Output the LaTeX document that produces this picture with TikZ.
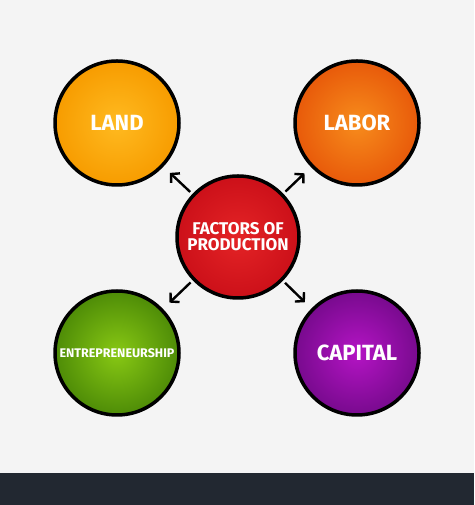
\documentclass[tikz,border=0pt]{standalone}
\usepackage{fontspec}
\setmainfont{Fira Sans}
\usetikzlibrary{positioning,arrows.meta}

\definecolor{paper}{HTML}{F4F4F4}
\definecolor{footbar}{HTML}{222831}
\definecolor{landin}{HTML}{FFBA20}
\definecolor{landout}{HTML}{F79C00}
\definecolor{laborin}{HTML}{F78C1C}
\definecolor{laborout}{HTML}{E85A0A}
\definecolor{factin}{HTML}{E42426}
\definecolor{factout}{HTML}{CC1019}
\definecolor{entin}{HTML}{88C814}
\definecolor{entout}{HTML}{4E8C07}
\definecolor{capin}{HTML}{B414C4}
\definecolor{capout}{HTML}{780A8E}

\begin{document}
\begin{tikzpicture}[x=1pt,y=1pt,
		factor/.style={circle,
			draw=black,
			line width=3.5pt,
			minimum size=124pt,
			inner sep=0pt,
			shade,
			text=white,
			align=center},
		link/.style={line width=2.4pt,
			-{Straight Barb[length=6pt,width=13pt,line width=2.4pt]},
			shorten <=3pt,
			shorten >=9pt}]
		\fill[paper] (0,0) rectangle (474,505);
		\fill[footbar] (0,0) rectangle (474,32);

		\node[factor,
			minimum size=122pt,
			inner color=factin,
			outer color=factout,
			font=\fontsize{17}{16}\selectfont\bfseries] (factors) at (238,268) {FACTORS OF\\PRODUCTION};

		\node[factor,
			on grid,
			above left=114pt and 121pt of factors,
			inner color=landin,
			outer color=landout,
			font=\fontsize{22}{24}\selectfont\bfseries] (land) {LAND};

		\node[factor,
			on grid,
			above right=114pt and 119pt of factors,
			inner color=laborin,
			outer color=laborout,
			font=\fontsize{22}{24}\selectfont\bfseries] (labor) {LABOR};

		\node[factor,
			on grid,
			below left=116pt and 121pt of factors,
			inner color=entin,
			outer color=entout,
			font=\fontsize{12.5}{14}\selectfont\bfseries] (entrepreneurship) {ENTREPRENEURSHIP};

		\node[factor,
			on grid,
			below right=116pt and 119pt of factors,
			inner color=capin,
			outer color=capout,
			font=\fontsize{22}{24}\selectfont\bfseries] (capital) {CAPITAL};

		\draw[link] (factors) edge (land)
		(factors) edge (labor)
		(factors) edge (entrepreneurship)
		(factors) edge (capital);

	\end{tikzpicture}
\end{document}
